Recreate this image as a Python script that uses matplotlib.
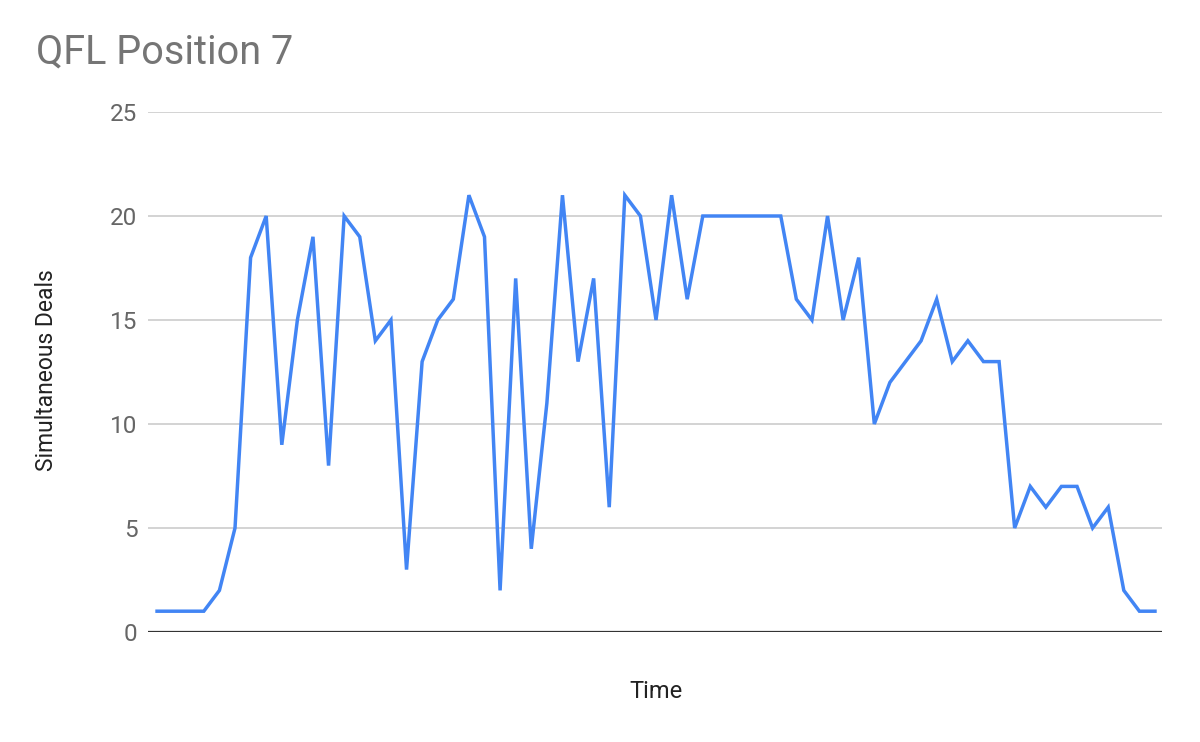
import numpy as np
import matplotlib.pyplot as plt

plt.rcParams['font.family'] = ['Roboto', 'DejaVu Sans']

# simultaneous deals per time step
deals = [1, 1, 1, 1, 2, 5, 18, 20, 9, 15,
         19, 8, 20, 19, 14, 15, 3, 13, 15, 16,
         21, 19, 2, 17, 4, 11, 21, 13, 17, 6,
         21, 20, 15, 21, 16, 20, 20, 20, 20, 20,
         20, 16, 15, 20, 15, 18, 10, 12, 13, 14,
         16, 13, 14, 13, 13, 5, 7, 6, 7, 7,
         5, 6, 2, 1, 1]
yticks = [0, 5, 10, 15, 20, 25]

t = np.arange(len(deals))

fig = plt.figure(figsize=(12, 7.42), dpi=100)
ax = fig.add_axes([148/1200, 1 - 632/742, (1162 - 148)/1200, (632 - 112)/742])

ax.plot(t, deals, color='#4285F4', lw=2.5, solid_joinstyle='miter', zorder=3)

ax.set_ylim(0, 25)
ax.set_xlim(-0.58, len(deals) - 1 + 0.45)
ax.set_yticks(yticks)
ax.set_xticks([])
ax.grid(axis='y', color='#cccccc', lw=1.2)
ax.axhline(0, color='#333333', lw=1.6, zorder=4)
for s in ax.spines.values():
    s.set_visible(False)
ax.tick_params(axis='y', length=0, pad=7.5, labelsize=17.5, labelcolor='#666666')

fig.text(36/1200, 1 - 52/742, 'QFL Position 7', fontsize=28.5, color='#757575', va='center')
fig.text(47/1200, 1 - 370/742, 'Simultaneous Deals', fontsize=16.5, color='#222222',
         rotation=90, ha='center', va='center')
fig.text(656/1200, 1 - 691/742, 'Time', fontsize=17, color='#222222', ha='center', va='center')

fig.savefig('out.png', dpi=100)
